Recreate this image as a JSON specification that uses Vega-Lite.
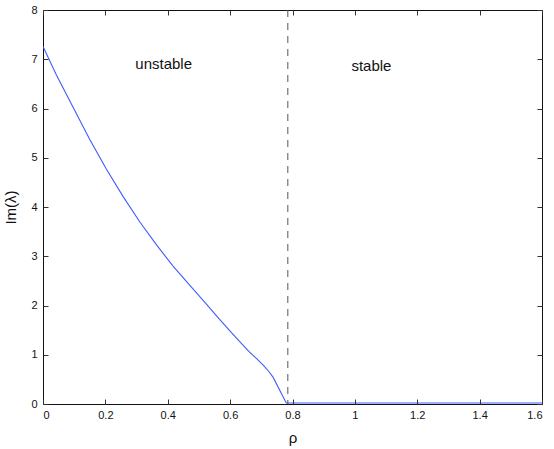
{
  "$schema": "https://vega.github.io/schema/vega-lite/v6.json",
  "width": 499,
  "height": 394,
  "autosize": {"type": "none"},
  "padding": {"left": 43, "top": 10, "right": 12, "bottom": 45},
  "background": "white",
  "config": {
    "font": "Liberation Sans",
    "view": {"stroke": "#111", "strokeWidth": 1},
    "axis": {
      "grid": false,
      "domain": false,
      "labelFont": "Liberation Sans",
      "labelFontSize": 11,
      "labelColor": "#111",
      "titleFont": "Liberation Sans",
      "titleFontWeight": "normal",
      "titleFontSize": 15,
      "titleColor": "#111"
    }
  },
  "resolve": {"axis": {"x": "independent", "y": "independent"}},
  "layer": [
    {
      "data": {"values": [
        {"rho": 0.0, "im": 7.26},
        {"rho": 0.043, "im": 6.68},
        {"rho": 0.096, "im": 6.03},
        {"rho": 0.15, "im": 5.37},
        {"rho": 0.203, "im": 4.77},
        {"rho": 0.257, "im": 4.21},
        {"rho": 0.31, "im": 3.7},
        {"rho": 0.364, "im": 3.23},
        {"rho": 0.417, "im": 2.8},
        {"rho": 0.471, "im": 2.41},
        {"rho": 0.524, "im": 2.03},
        {"rho": 0.562, "im": 1.75},
        {"rho": 0.6, "im": 1.48},
        {"rho": 0.63, "im": 1.27},
        {"rho": 0.66, "im": 1.07},
        {"rho": 0.685, "im": 0.92},
        {"rho": 0.706, "im": 0.79},
        {"rho": 0.723, "im": 0.67},
        {"rho": 0.738, "im": 0.54},
        {"rho": 0.78, "im": 0.02},
        {"rho": 1.6, "im": 0.02}
      ]},
      "mark": {"type": "line", "color": "#3f5cff", "strokeWidth": 1.1, "clip": true},
      "encoding": {
        "x": {"field": "rho", "type": "quantitative",
              "scale": {"domain": [0, 1.6], "nice": false, "zero": false},
              "axis": {"orient": "bottom", "zindex": 1, "values": [0, 0.2, 0.4, 0.6, 0.8, 1, 1.2, 1.4, 1.6], "format": "~g", "offset": -5, "ticks": true, "tickSize": 5, "tickColor": "#333", "tickWidth": 1, "labelPadding": 5, "title": "ρ", "titlePadding": 10}},
        "y": {"field": "im", "type": "quantitative",
              "scale": {"domain": [0, 8], "nice": false},
              "axis": {"orient": "left", "zindex": 1, "values": [0, 1, 2, 3, 4, 5, 6, 7, 8], "offset": -5, "ticks": true, "tickSize": 5, "tickColor": "#333", "tickWidth": 1, "labelPadding": 6, "title": "Im(λ)", "titlePadding": 12}}
      }
    },
    {
      "data": {"values": [{"rho": 0.785}]},
      "mark": {"type": "rule", "color": "#555", "strokeWidth": 1, "strokeDash": [7, 6]},
      "encoding": {
        "x": {"field": "rho", "type": "quantitative",
              "scale": {"domain": [0, 1.6], "nice": false, "zero": false},
              "axis": {"orient": "top", "zindex": 1, "values": [0, 0.2, 0.4, 0.6, 0.8, 1, 1.2, 1.4, 1.6], "labels": false, "offset": -5, "ticks": true, "tickSize": 5, "tickColor": "#333", "tickWidth": 1, "title": null}}
      }
    },
    {
      "data": {"values": [
        {"rho": 0.387, "im": 6.9, "label": "unstable"},
        {"rho": 1.053, "im": 6.86, "label": "stable"}
      ]},
      "mark": {"type": "text", "font": "Liberation Sans", "fontSize": 15, "color": "#111", "align": "center", "baseline": "middle"},
      "encoding": {
        "x": {"field": "rho", "type": "quantitative", "scale": {"domain": [0, 1.6], "nice": false, "zero": false}, "axis": null},
        "y": {"field": "im", "type": "quantitative",
              "scale": {"domain": [0, 8], "nice": false},
              "axis": {"orient": "right", "zindex": 1, "values": [0, 1, 2, 3, 4, 5, 6, 7, 8], "labels": false, "offset": -5, "ticks": true, "tickSize": 5, "tickColor": "#333", "tickWidth": 1, "title": null}},
        "text": {"field": "label"}
      }
    }
  ]
}
